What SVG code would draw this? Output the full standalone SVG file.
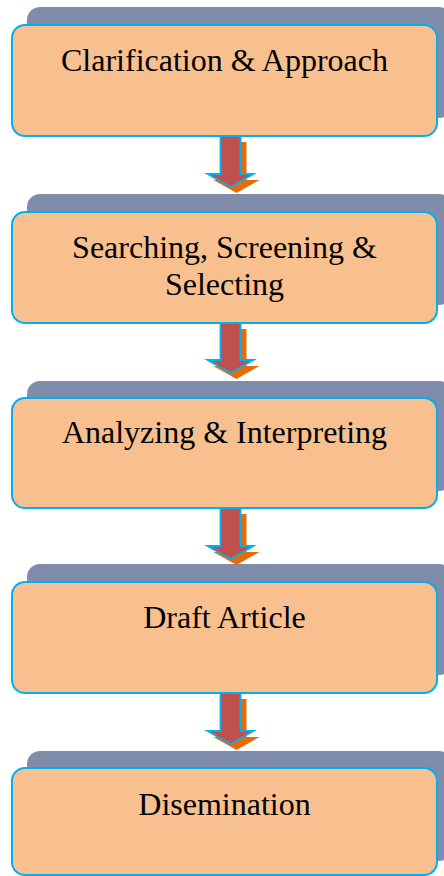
<svg xmlns="http://www.w3.org/2000/svg" width="444" height="876" viewBox="0 0 444 876">
  <style>
    .shadow { fill: #7f8dab; }
    .box { fill: #f9c08f; stroke: #00b0f0; stroke-width: 2; }
    .label { font-family: "Liberation Serif", "Times New Roman", serif; font-size: 32px; fill: #000; text-anchor: middle; }
    .arr-shadow { fill: #e46c0a; }
    .arr { fill: #c0504d; stroke: #00b0f0; stroke-width: 1.8; stroke-linejoin: miter; }
  </style>
  <defs>
    <path id="arrowShape" d="M-10,0 H10 V38 H23 L0,51 L-23,38 H-10 Z"/>
  </defs>
  <rect width="444" height="876" fill="#ffffff"/>

  <g id="node1">
    <rect class="shadow" x="27" y="7" width="425" height="111" rx="13"/>
    <rect class="box" x="12" y="25" width="425" height="111" rx="13"/>
    <text class="label" x="224.5" y="71">Clarification &amp; Approach</text>
  </g>
  <g id="node2">
    <rect class="shadow" x="27" y="194" width="425" height="111" rx="13"/>
    <rect class="box" x="12" y="212" width="425" height="111" rx="13"/>
    <text class="label" x="224.5" y="258">Searching, Screening &amp;</text>
    <text class="label" x="224.5" y="295">Selecting</text>
  </g>
  <g id="node3">
    <rect class="shadow" x="27" y="381" width="425" height="110" rx="13"/>
    <rect class="box" x="12" y="398" width="425" height="110" rx="13"/>
    <text class="label" x="224.5" y="443">Analyzing &amp; Interpreting</text>
  </g>
  <g id="node4">
    <rect class="shadow" x="27" y="564" width="425" height="111" rx="13"/>
    <rect class="box" x="12" y="582" width="425" height="111" rx="13"/>
    <text class="label" x="224.5" y="628">Draft Article</text>
  </g>
  <g id="node5">
    <rect class="shadow" x="27" y="751" width="425" height="110" rx="13"/>
    <rect class="box" x="12" y="768" width="425" height="107" rx="13"/>
    <text class="label" x="224.5" y="815">Disemination</text>
  </g>

  <g id="connectors">
    <g transform="translate(230.5,136)">
      <use href="#arrowShape" class="arr-shadow" transform="translate(6,6)"/>
      <use href="#arrowShape" class="arr"/>
    </g>
    <g transform="translate(230.5,323) scale(1,1.0)">
      <path class="arr-shadow" d="M-4,6 H16 V43 H29 L6,56 L-17,43 H-4 Z"/>
      <path class="arr" d="M-10,0 H10 V37 H23 L0,50 L-23,37 H-10 Z"/>
    </g>
    <g transform="translate(230.5,508)">
      <use href="#arrowShape" class="arr-shadow" transform="translate(6,6)"/>
      <use href="#arrowShape" class="arr"/>
    </g>
    <g transform="translate(230.5,693)">
      <use href="#arrowShape" class="arr-shadow" transform="translate(6,6)"/>
      <use href="#arrowShape" class="arr"/>
    </g>
  </g>
</svg>
